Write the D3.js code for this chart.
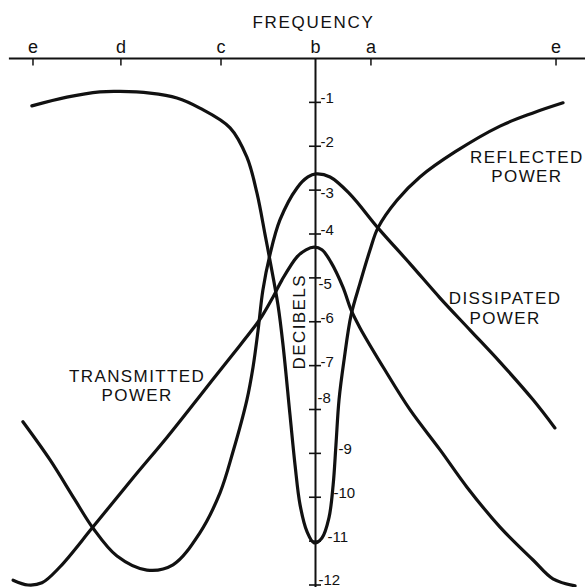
<!DOCTYPE html>
<html>
<head>
<meta charset="utf-8">
<script src="https://cdn.jsdelivr.net/npm/d3@7"></script>
<style>
  html, body { margin: 0; padding: 0; background: #fff; }
  svg { display: block; }
  text { font-family: "Liberation Sans", Arial, sans-serif; fill: #111; }
</style>
</head>
<body>
<svg id="chart" width="585" height="587"></svg>
<script>
// Frequency axis: offset from resonance (b = 0), arbitrary units
const freqTickValues = [-100.9, -69.5, -33.75, 0, 19.8, 85.9];
const freqTickLabels = ["e", "d", "c", "b", "a", "e"];

// Decibel axis
const dbTickValues = [-1, -2, -3, -4, -5, -6, -7, -8, -9, -10, -11, -12];
const dbTickLabels = ["-1", "-2", "-3", "-4", "-5", "-6", "-7", "-8", "-9", "-10", "-11", "-12"];

// Reflected power: [frequency offset, dB]
const reflectedFreq = [-101.3, -88.8, -77.0, -69.8, -59.1, -49.5, -41.3, -30.5, -24.5, -20.9, -18.0, -16.3, -13.4, -11.6, -9.1, -7.3, -5.5, -3.0, -0.5, 2.3, 4.8, 6.3, 7.3, 8.4, 10.2, 12.7, 15.9, 19.5, 22.3, 29.1, 37.3, 49.8, 65.9, 77.7, 88.4];
const reflectedDb   = [-1.08, -0.88, -0.76, -0.75, -0.79, -0.90, -1.13, -1.58, -2.25, -3.07, -4.02, -4.59, -5.62, -6.53, -8.13, -9.27, -10.18, -10.79, -11.04, -10.93, -10.47, -9.72, -8.81, -7.78, -6.87, -5.85, -5.12, -4.36, -3.86, -3.23, -2.70, -2.13, -1.54, -1.24, -1.01];

// Dissipated power
const dissipatedFreq = [-104.5, -94.8, -85.9, -79.5, -70.9, -60.2, -50.9, -41.3, -34.1, -29.5, -24.5, -22.3, -20.5, -18.8, -16.3, -12.7, -6.6, -2.7, 0.2, 5.2, 12.3, 22.3, 33.8, 44.5, 55.2, 65.9, 77.7, 85.5];
const dissipatedDb   = [-8.28, -9.15, -10.06, -10.70, -11.34, -11.66, -11.54, -10.81, -9.90, -8.97, -7.78, -7.03, -6.19, -5.28, -4.48, -3.68, -2.95, -2.70, -2.63, -2.70, -3.09, -3.86, -4.68, -5.46, -6.19, -6.92, -7.78, -8.42];

// Transmitted power
const transmittedFreq = [-108.0, -102.7, -97.7, -91.3, -79.5, -65.2, -53.0, -41.3, -29.5, -22.7, -19.1, -15.2, -12.0, -6.6, -3.4, -0.5, 2.3, 5.5, 9.8, 12.7, 15.9, 24.8, 33.8, 44.5, 54.1, 65.9, 77.7, 84.8, 92.7];
const transmittedDb   = [-11.89, -12.0, -11.95, -11.59, -10.68, -9.56, -8.63, -7.69, -6.74, -6.19, -5.87, -5.44, -5.05, -4.52, -4.36, -4.30, -4.36, -4.64, -5.21, -5.73, -6.14, -7.10, -8.01, -8.92, -9.77, -10.68, -11.43, -11.86, -12.02];

// Curve captions: [lines, frequency offset, dB of first baseline]
const captionLines = [["REFLECTED", "POWER"], ["DISSIPATED", "POWER"], ["TRANSMITTED", "POWER"]];
const captionFreq  = [75.5, 67.7, -63.7];
const captionDb    = [-2.38, -5.60, -7.37];

const W = 585, H = 587;
const ink = "#111";
const svg = d3.select("#chart");

const x = d3.scaleLinear().domain([-112.68, 96.25]).range([0, W]);
const y = d3.scaleLinear().domain([0, -12]).range([58.5, 585]);

const x0 = x(0), y0 = y(0);

// top frequency axis
svg.append("line")
  .attr("x1", x(-109.5)).attr("x2", W)
  .attr("y1", y0).attr("y2", y0)
  .attr("stroke", ink).attr("stroke-width", 2);

const fTicks = svg.append("g");
freqTickValues.forEach((v, i) => {
  if (v !== 0) {
    fTicks.append("line")
      .attr("x1", x(v)).attr("x2", x(v))
      .attr("y1", y0).attr("y2", y0 + 7)
      .attr("stroke", ink).attr("stroke-width", 1.5);
  }
  fTicks.append("text")
    .attr("x", x(v)).attr("y", y0 - 6)
    .attr("text-anchor", "middle")
    .attr("font-size", 18)
    .text(freqTickLabels[i]);
});

svg.append("text")
  .attr("x", x0 - 2).attr("y", 28)
  .attr("text-anchor", "middle")
  .attr("font-size", 17)
  .attr("letter-spacing", 1.7)
  .text("FREQUENCY");

// vertical decibel axis
svg.append("line")
  .attr("x1", x0).attr("x2", x0)
  .attr("y1", y0).attr("y2", H)
  .attr("stroke", ink).attr("stroke-width", 2);

// per-label nudges where a curve or neighbour crowds the default spot
const nudge = { "-3": [0, 7], "-5": [-2, 10], "-8": [-3, -8], "-9": [18, 0], "-10": [13, 0], "-11": [7, 0], "-12": [-2, -1] };
const dTicks = svg.append("g");
dbTickValues.forEach((v, i) => {
  const ty = y(v);
  dTicks.append("line")
    .attr("x1", x0 - 6.5).attr("x2", x0 + 5.5)
    .attr("y1", ty).attr("y2", ty)
    .attr("stroke", ink).attr("stroke-width", 1.6);
  const n = nudge[dbTickLabels[i]] || [0, 0];
  dTicks.append("text")
    .attr("x", x0 + 5 + n[0]).attr("y", ty + 1 + n[1])
    .attr("font-size", 15)
    .text(dbTickLabels[i]);
});

svg.append("text")
  .attr("transform", `translate(${x0 - 11},${y(-6.0)}) rotate(-90)`)
  .attr("text-anchor", "middle")
  .attr("font-size", 17)
  .attr("letter-spacing", 1.4)
  .text("DECIBELS");

// curves
const line = d3.line()
  .x(d => x(d[0]))
  .y(d => y(d[1]))
  .curve(d3.curveCatmullRom.alpha(0.5));

const series = [
  d3.zip(reflectedFreq, reflectedDb),
  d3.zip(dissipatedFreq, dissipatedDb),
  d3.zip(transmittedFreq, transmittedDb)
];

svg.append("g").selectAll("path")
  .data(series)
  .join("path")
  .attr("d", line)
  .attr("fill", "none")
  .attr("stroke", ink)
  .attr("stroke-width", 3.2)
  .attr("stroke-linecap", "round")
  .attr("stroke-linejoin", "round");

// captions
captionLines.forEach((lines, i) => {
  const t = svg.append("text")
    .attr("text-anchor", "middle")
    .attr("font-size", 17)
    .attr("letter-spacing", 1.4);
  lines.forEach((s, j) => {
    t.append("tspan")
      .attr("x", x(captionFreq[i]))
      .attr("y", y(captionDb[i]) + j * 19.5)
      .text(s);
  });
});
</script>
</body>
</html>
